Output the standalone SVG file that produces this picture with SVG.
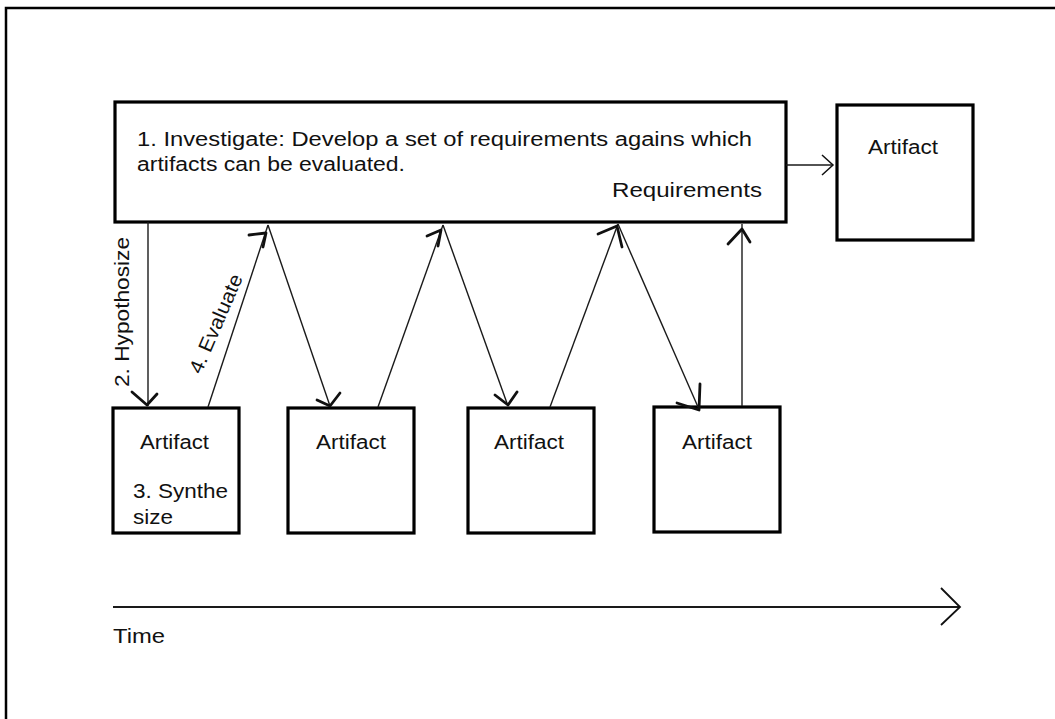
<svg xmlns="http://www.w3.org/2000/svg" width="1055" height="719" viewBox="0 0 1055 719">
<style>
.bg{fill:#ffffff}
.frame{fill:none;stroke:#000;stroke-width:2.5}
.box{fill:#fff;stroke:#000;stroke-width:3.2}
.lbl{font-family:"Liberation Sans",Arial,sans-serif;font-size:20px;fill:#111}
.conn{fill:none;stroke:#1a1a1a;stroke-width:1.4}
.head{fill:none;stroke:#111;stroke-width:2.8;stroke-linecap:round;stroke-linejoin:round}
.chev{fill:none;stroke:#111;stroke-width:1.8}
</style>
<rect class="bg" x="0" y="0" width="1055" height="719"/>
<polyline class="frame" points="6,719 6,8 1055,8"/>

<g id="investigate">
<rect class="box" x="115" y="102" width="671" height="120"/>
<text class="lbl" x="137" y="146" textLength="615" lengthAdjust="spacingAndGlyphs">1. Investigate: Develop a set of requirements agains which</text>
<text class="lbl" x="137" y="171" textLength="268" lengthAdjust="spacingAndGlyphs">artifacts can be evaluated.</text>
<text class="lbl" x="612" y="197" textLength="150" lengthAdjust="spacingAndGlyphs">Requirements</text>
</g>

<g id="artifact-final">
<rect class="box" x="837" y="105" width="136" height="135"/>
<text class="lbl" x="868" y="154" textLength="70" lengthAdjust="spacingAndGlyphs">Artifact</text>
</g>

<g id="artifact-1">
<rect class="box" x="113" y="408" width="126" height="125"/>
<text class="lbl" x="140" y="449" textLength="69" lengthAdjust="spacingAndGlyphs">Artifact</text>
<text class="lbl" x="133" y="498" textLength="95" lengthAdjust="spacingAndGlyphs">3. Synthe</text>
<text class="lbl" x="133" y="524" textLength="40" lengthAdjust="spacingAndGlyphs">size</text>
</g>

<g id="artifact-2">
<rect class="box" x="288" y="408" width="126" height="125"/>
<text class="lbl" x="316" y="449" textLength="70" lengthAdjust="spacingAndGlyphs">Artifact</text>
</g>

<g id="artifact-3">
<rect class="box" x="468" y="408" width="126" height="125"/>
<text class="lbl" x="494" y="449" textLength="70" lengthAdjust="spacingAndGlyphs">Artifact</text>
</g>

<g id="artifact-4">
<rect class="box" x="654" y="407" width="126" height="125"/>
<text class="lbl" x="682" y="449" textLength="70" lengthAdjust="spacingAndGlyphs">Artifact</text>
</g>

<g id="time-axis">
<line class="conn" x1="113" y1="607" x2="960" y2="607" style="stroke-width:1.8"/>
<polyline class="chev" points="941,588 960,607 941,625"/>
<text class="lbl" x="113" y="643" textLength="52" lengthAdjust="spacingAndGlyphs">Time</text>
</g>

<g id="connectors">
<line class="conn" x1="148" y1="222" x2="148" y2="406"/>
<path class="head" d="M132,392 L147,405 L157,394"/>
<line class="conn" x1="208" y1="407" x2="268" y2="225"/>
<path class="head" d="M249,235 L266,233 L263,247"/>
<line class="conn" x1="268" y1="225" x2="330" y2="406"/>
<path class="head" d="M317,400 L330,406 L340,393"/>
<line class="conn" x1="378" y1="407" x2="443" y2="225"/>
<path class="head" d="M427,236 L441,230 L438,246"/>
<line class="conn" x1="443" y1="225" x2="508" y2="406"/>
<path class="head" d="M495,395 L508,405 L517,392"/>
<line class="conn" x1="550" y1="407" x2="618" y2="224"/>
<path class="head" d="M598,234 L617,226 L622,247"/>
<line class="conn" x1="618" y1="224" x2="698" y2="407"/>
<path class="head" d="M677,403 L699,410 L700,384"/>
<line class="conn" x1="742" y1="406" x2="742" y2="224"/>
<path class="head" d="M728,244 L742,229 L750,242"/>
<line class="conn" x1="786" y1="165" x2="833" y2="165"/>
<polyline class="chev" points="822,155 833,165 822,175" style="stroke-width:1.5"/>
<text class="lbl" transform="translate(128.5,387) rotate(-90)" x="0" y="0" textLength="150" lengthAdjust="spacingAndGlyphs">2. Hypothosize</text>
<text class="lbl" transform="translate(201,375) rotate(-66.6)" x="0" y="0" textLength="106" lengthAdjust="spacingAndGlyphs">4. Evaluate</text>
</g>
</svg>
